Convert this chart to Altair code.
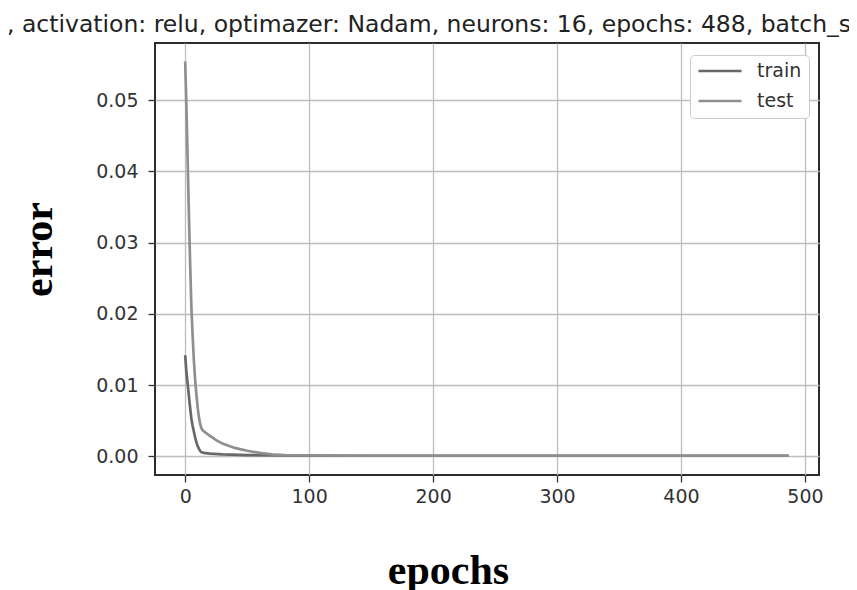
import altair as alt
import pandas as pd

# ---- data ----
train_epochs = [0, 1, 2, 3, 4, 5, 6, 7, 8, 9, 10, 11, 12, 13, 15, 20, 30, 50, 100, 200, 300, 400, 487]
train_error = [0.0142, 0.0118, 0.0102, 0.0085, 0.0068, 0.0053, 0.0043, 0.0035, 0.0027, 0.0020,
               0.0015, 0.0011, 0.0008, 0.0006, 0.0005, 0.0004, 0.0003, 0.0002, 0.0001, 0.0001,
               0.0001, 0.0001, 0.0001]

test_epochs = [0, 1, 2, 3, 4, 5, 6, 7, 8, 9, 10, 11, 12, 13, 14, 16, 20, 25, 30, 35, 40, 45, 50,
               60, 70, 80, 100, 150, 200, 300, 400, 487]
test_error = [0.0554, 0.0490, 0.0415, 0.0340, 0.0270, 0.0210, 0.0170, 0.0135, 0.0108, 0.0088,
              0.0070, 0.0056, 0.0046, 0.0040, 0.0037, 0.0034, 0.0029, 0.0023, 0.0018, 0.0015,
              0.0012, 0.0010, 0.0008, 0.0005, 0.0003, 0.0002, 0.00015, 0.0001, 0.0001, 0.0001,
              0.0001, 0.0001]

series_names = ["train", "test"]
series_colors = ["#686868", "#8f8f8f"]
x_ticks = [0, 100, 200, 300, 400, 500]
y_ticks = [0.0, 0.01, 0.02, 0.03, 0.04, 0.05]
title_text = ", activation: relu, optimazer: Nadam, neurons: 16, epochs: 488, batch_s"

df = pd.concat([
    pd.DataFrame({"epoch": train_epochs, "error": train_error, "series": "train"}),
    pd.DataFrame({"epoch": test_epochs, "error": test_error, "series": "test"}),
], ignore_index=True)

chart = alt.Chart(df).mark_line(strokeWidth=2.7, clip=True).encode(
    x=alt.X(
        "epoch:Q",
        scale=alt.Scale(domain=[-24.35, 511.35], nice=False, zero=False),
        axis=alt.Axis(
            values=x_ticks, format="d", title="epochs",
            titleX=293, titleY=108, titleAlign="center", titleBaseline="alphabetic",
            titleFont="Liberation Serif", titleFontWeight="bold", titleFontSize=42,
            titleColor="#000000", labelPadding=5,
        ),
    ),
    y=alt.Y(
        "error:Q",
        scale=alt.Scale(domain=[-0.0026, 0.0580], nice=False, zero=False),
        axis=alt.Axis(
            values=y_ticks, format=".2f", title="error",
            titleX=-104, titleY=206, titleAngle=270, titleAlign="center", titleBaseline="alphabetic",
            titleFont="Liberation Serif", titleFontWeight="bold", titleFontSize=42,
            titleColor="#000000", labelPadding=10,
        ),
    ),
    color=alt.Color(
        "series:N",
        scale=alt.Scale(domain=series_names, range=series_colors),
        legend=alt.Legend(
            title=None, orient="none", legendX=535, legendY=12, direction="vertical",
            symbolType="stroke", symbolSize=1849, symbolStrokeWidth=2.7,
            labelFont="DejaVu Sans", labelFontSize=19, labelColor="#333333",
            labelOffset=14, rowPadding=11, clipHeight=18, padding=7,
            fillColor="#ffffff", strokeColor="#cccccc", cornerRadius=4,
        ),
    ),
).properties(
    width=664,
    height=432,
    background="#ffffff",
    padding={"left": 147, "top": 35, "right": 30, "bottom": 140},
    autosize=alt.AutoSizeParams(type="none"),
    title=alt.TitleParams(
        text=title_text, anchor="start", frame="group", font="DejaVu Sans",
        fontSize=23.5, fontWeight="normal", color="#222222", offset=11,
        baseline="alphabetic", dx=-148, dy=23,
    ),
).configure_view(
    stroke="#2b2b2b", strokeWidth=2
).configure_axis(
    domain=False, grid=True, gridColor="#bdbdbd", gridWidth=1.3,
    tickColor="#333333", tickWidth=1.3, tickSize=7,
    labelFont="DejaVu Sans", labelFontSize=19, labelColor="#333333",
)

chart.save("out.html", embed_options={"renderer": "svg", "actions": False})
